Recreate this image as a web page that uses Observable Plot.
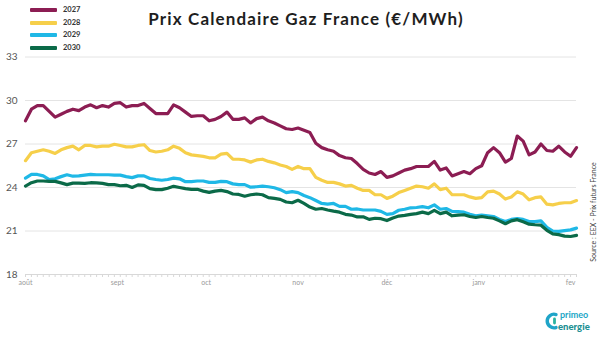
<!DOCTYPE html>
<html>
<head>
<meta charset="utf-8">
<script src="https://cdn.jsdelivr.net/npm/d3@7"></script>
<script src="https://cdn.jsdelivr.net/npm/@observablehq/plot@0.6"></script>
<style>
  html, body { margin: 0; padding: 0; background: #fff; }
  #wrap { position: relative; width: 600px; height: 338px; overflow: hidden; font-family: Lato, "Open Sans", sans-serif; }
  #chart { position: absolute; left: 0; top: 0; }
  #title { position: absolute; left: 0; width: 612px; top: 8px; text-align: center; font-size: 17px; font-weight: 700; color: #1e1e1e; letter-spacing: 1.15px; }
  #legend { position: absolute; left: 30px; top: 5px; }
  .li { position: absolute; left: 0; white-space: nowrap; font-size: 7.5px; font-weight: 700; color: #333; }
  .sw { display: inline-block; width: 27px; height: 4px; border-radius: 1px; vertical-align: middle; margin-right: 6px; }
  #source { position: absolute; left: 593px; top: 212px; transform: translate(-50%, -50%) rotate(-90deg); white-space: nowrap; font-size: 7px; color: #444; }
  #logo { position: absolute; left: 545px; top: 309px; }
</style>
</head>
<body>
<div id="wrap">
  <div id="chart"></div>
  <div id="title">Prix Calendaire Gaz France (€/MWh)</div>
  <div id="legend"></div>
  <div id="source">Source : EEX - Prix futurs France</div>
  <div id="logo">
    <svg width="56" height="26" viewBox="0 0 56 26">
      <path d="M11 5.5 A6.8 6.8 0 1 0 11 18.5" fill="none" stroke="#1fa4c8" stroke-width="3.4" stroke-linecap="round"/>
      <path d="M9.5 10 L9.5 14" stroke="#2bb3a0" stroke-width="2.8" stroke-linecap="round"/>
      <text x="15" y="9" font-family="Lato, sans-serif" font-size="9" font-weight="700" fill="#22a6c6">primeo</text>
      <text x="13" y="21" font-family="Lato, sans-serif" font-size="9.5" font-weight="900" fill="#1b8f92">energie</text>
    </svg>
  </div>
</div>
<script>
// Series names and colours
const series = ["2027", "2028", "2029", "2030"];
const colors = ["#8c1d53", "#f6cf4a", "#1fb8e6", "#0b6a48"];

// Axis ticks / labels
const yTicks = [18, 21, 24, 27, 30, 33];
const monthTickDates = ["2025-08-01", "2025-09-01", "2025-10-01", "2025-11-01", "2025-12-01", "2026-01-01", "2026-02-01"];
const monthLabels = ["août", "sept", "oct", "nov", "déc", "janv", "fev"];

// Observation dates (every 2 days from 1 Aug to 3 Feb)
const startDate = "2025-08-01";
const endDate = "2026-02-04";

// Values (€/MWh), one per date
const v2027 = [28.6,29.4,29.65,29.65,29.25,28.85,29.05,29.25,29.4,29.3,29.55,29.7,29.5,29.65,29.55,29.8,29.85,29.55,29.65,29.65,29.8,29.45,29.1,29.1,29.1,29.7,29.5,29.2,28.9,28.95,28.95,28.6,28.7,28.9,29.2,28.7,28.7,28.8,28.45,28.75,28.85,28.6,28.45,28.25,28.05,28.0,28.1,27.95,27.8,27.05,26.75,26.6,26.5,26.2,26.05,26.0,25.65,25.25,25.0,24.9,25.1,24.7,24.8,25.0,25.2,25.3,25.45,25.45,25.45,25.8,25.2,25.35,24.8,24.95,25.1,24.95,25.3,25.5,26.4,26.75,26.4,25.75,26.0,27.55,27.2,26.25,26.45,27.0,26.55,26.5,26.85,26.45,26.15,26.75];
const v2028 = [25.85,26.4,26.5,26.6,26.5,26.35,26.6,26.75,26.85,26.6,26.9,26.9,26.8,26.85,26.85,26.98,26.9,26.8,26.8,26.9,26.95,26.55,26.45,26.5,26.6,26.85,26.7,26.4,26.25,26.2,26.15,26.05,26.05,26.3,26.35,25.95,25.95,25.9,25.75,25.9,25.95,25.8,25.7,25.55,25.45,25.25,25.45,25.3,25.3,24.7,24.5,24.35,24.35,24.25,24.1,24.15,23.95,23.8,23.8,23.5,23.5,23.25,23.4,23.65,23.8,23.95,24.1,24.05,23.95,24.25,23.85,23.95,23.5,23.5,23.5,23.35,23.25,23.3,23.7,23.75,23.55,23.2,23.35,23.7,23.55,23.15,23.3,23.35,22.85,22.8,22.9,22.95,22.95,23.1];
const v2029 = [24.65,24.9,24.9,24.8,24.55,24.6,24.75,24.88,24.78,24.8,24.85,24.9,24.88,24.88,24.88,24.85,24.85,24.75,24.68,24.8,24.8,24.62,24.55,24.5,24.55,24.65,24.6,24.4,24.4,24.45,24.45,24.35,24.35,24.42,24.4,24.25,24.2,24.2,24.02,24.05,24.1,24.05,23.98,23.85,23.65,23.72,23.65,23.45,23.3,23.1,22.9,22.85,22.9,22.7,22.7,22.5,22.52,22.45,22.45,22.45,22.35,22.15,22.2,22.43,22.5,22.6,22.62,22.68,22.6,22.8,22.5,22.55,22.35,22.33,22.3,22.15,22.05,22.1,22.05,22.0,21.8,21.65,21.8,21.85,21.8,21.65,21.65,21.7,21.25,21.0,20.97,21.03,21.08,21.2];
const v2030 = [24.1,24.33,24.45,24.45,24.42,24.42,24.32,24.2,24.3,24.3,24.28,24.33,24.32,24.28,24.2,24.2,24.12,24.15,24.0,24.18,24.15,23.92,23.85,23.85,23.95,24.08,24.0,23.92,23.87,23.88,23.75,23.66,23.75,23.8,23.72,23.55,23.52,23.4,23.5,23.55,23.5,23.3,23.25,23.18,23.0,22.95,23.12,22.9,22.65,22.5,22.55,22.45,22.37,22.3,22.15,22.1,21.97,21.98,21.8,21.88,21.85,21.72,21.9,22.03,22.08,22.15,22.2,22.3,22.2,22.42,22.2,22.3,22.05,22.1,22.12,22.0,21.93,22.0,21.93,21.88,21.7,21.5,21.7,21.78,21.63,21.47,21.43,21.4,21.05,20.8,20.75,20.65,20.62,20.7];

const dates = d3.utcDay.range(new Date(startDate), new Date(endDate), 2);
const valuesBySeries = [v2027, v2028, v2029, v2030];
const rows = [];
series.forEach((s, k) => {
  valuesBySeries[k].forEach((v, i) => rows.push({ date: dates[i], value: v, series: s }));
});
const monthTicks = monthTickDates.map(d => new Date(d));
const labelOf = new Map(monthTicks.map((d, i) => [+d, monthLabels[i]]));

const chart = Plot.plot({
  width: 600,
  height: 338,
  marginTop: 56.5,
  marginBottom: 64,
  marginLeft: 25,
  marginRight: 24,
  style: { fontFamily: "Lato, 'Open Sans', sans-serif", background: "transparent" },
  x: { type: "utc", domain: [new Date(startDate), dates[dates.length - 1]] },
  y: { domain: [18, 33] },
  color: { domain: series, range: colors },
  marks: [
    Plot.gridY(yTicks, { stroke: "#e4e4e4", strokeOpacity: 1 }),
    Plot.axisY(yTicks, { tickSize: 0, tickPadding: 8, fontSize: 10, fill: "#555", label: null }),
    Plot.ruleY([18], { stroke: "#d8d8d8" }),
    Plot.axisX(dates, { tickSize: 3, stroke: "#d8d8d8", tickFormat: () => "", label: null }),
    Plot.axisX(monthTicks, { tickSize: 0, tickPadding: 6, tickFormat: d => labelOf.get(+d), fontSize: 7, fill: "#9a9a9a", label: null }),
    Plot.lineY(rows, { x: "date", y: "value", z: "series", stroke: "series", strokeWidth: 3.2, strokeLinejoin: "round" })
  ]
});
document.getElementById("chart").appendChild(chart);

const legend = document.getElementById("legend");
series.forEach((s, k) => {
  const div = document.createElement("div");
  div.className = "li";
  div.style.top = [0, 13, 25, 38][k] + "px";
  div.innerHTML = `<span class="sw" style="background:${colors[k]}"></span>${s}`;
  legend.appendChild(div);
});
</script>
</body>
</html>
